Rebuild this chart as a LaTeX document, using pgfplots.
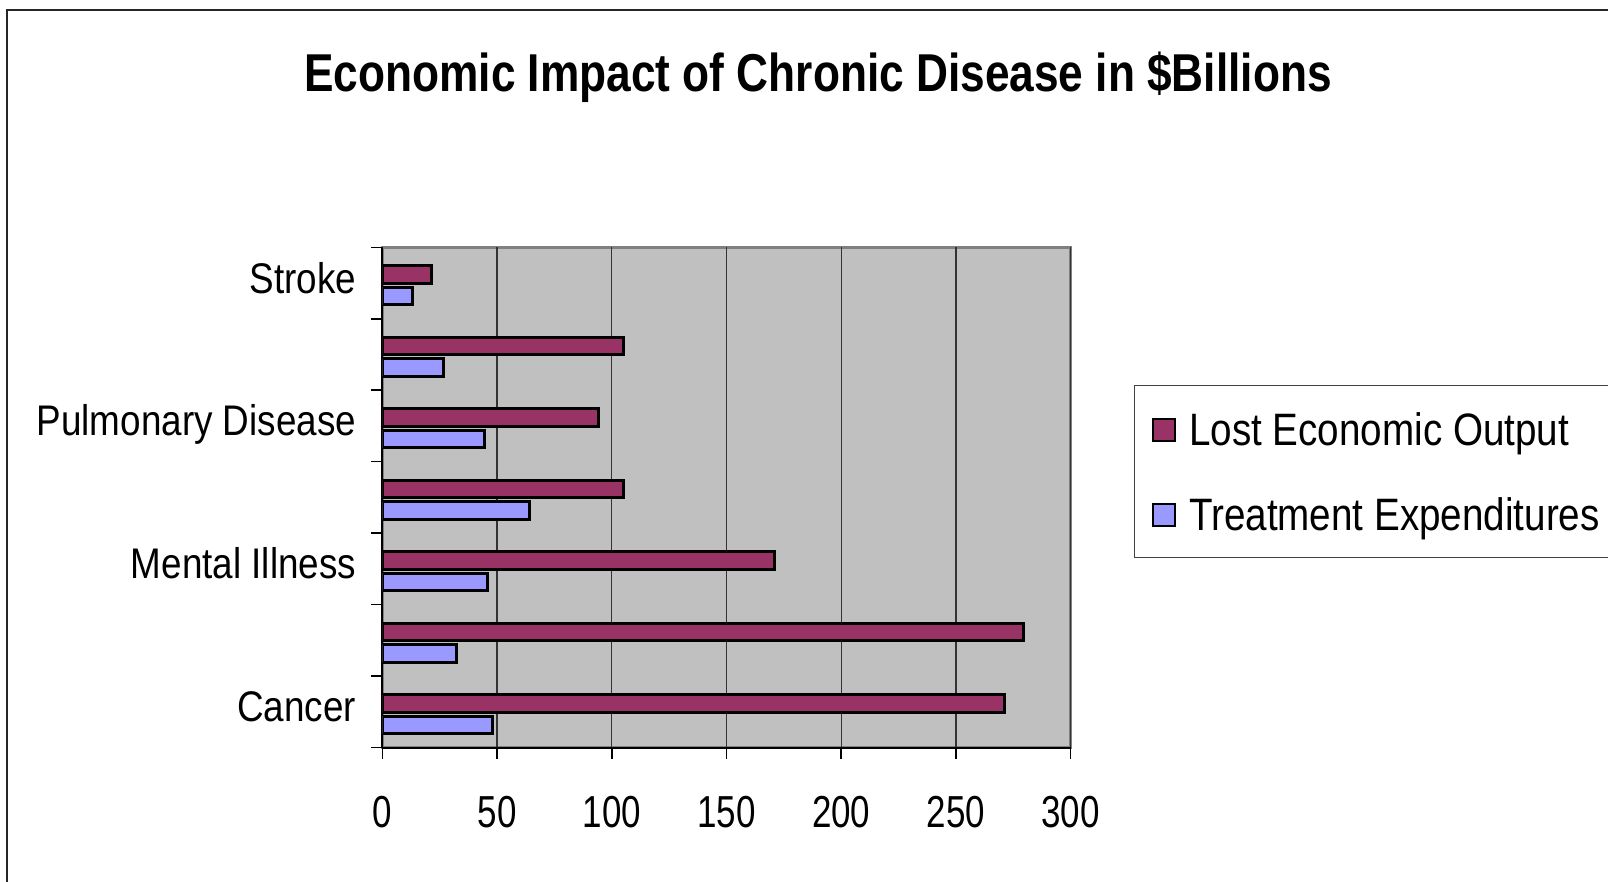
\documentclass[border=0pt]{standalone}
\usepackage{fontspec}
\usepackage{pgfplots}
\pgfplotsset{compat=1.18}
\setmainfont{Liberation Sans}
\newfontfamily\titlefont{Liberation Sans}[FakeStretch=0.83]
\newfontfamily\labfont{Liberation Sans}[FakeStretch=0.85]
\newfontfamily\ylabfont{Liberation Sans}[FakeStretch=0.86]
\newfontfamily\tickfont{Liberation Sans}[FakeStretch=0.78]
\definecolor{lostc}{HTML}{993366}
\definecolor{treatc}{HTML}{9999FF}
\definecolor{bgc}{HTML}{C0C0C0}
\definecolor{bordc}{HTML}{808080}
\begin{document}
\begin{tikzpicture}[x=1bp,y=1bp]
\path[use as bounding box] (0,0) rectangle (1608,881);
\clip (0,0) rectangle (1608,881);
\draw[line width=2bp, black!85] (7,-20) rectangle (1700,871);
\begin{axis}[
  at={(382.3bp,133.4bp)}, anchor=south west,
  scale only axis, width=688.4bp, height=500.3bp,
  xbar, bar width=17.5bp,
  xmin=0, xmax=300, ymin=-0.5, ymax=6.5,
  axis background/.style={fill=bgc, draw=bordc, line width=3bp},
  axis x line*=bottom, axis y line*=left,
  axis line style={-, black, line width=2bp},
  tick align=outside, major tick length=11bp,
  tick style={black, line width=1.5bp},
  xtick={0,50,...,300},
  xmajorgrids, major grid style={black!80, line width=1.2bp},
  /pgf/number format/assume math mode=true,
  xticklabel style={anchor=base, inner sep=0pt, yshift=-68.6bp, font=\tickfont\fontsize{45}{45}\selectfont},
  ytick={-0.5,0.5,...,6.5}, yticklabels={},
  extra y ticks={0,2,4,6},
  extra y tick labels={Cancer,Mental Illness,Pulmonary Disease,Stroke},
  extra y tick style={major tick length=0pt, ymajorgrids=false,
     yticklabel style={anchor=base east, inner sep=0pt, xshift=-26bp, yshift=-10bp, font=\ylabfont\fontsize{43}{43}\selectfont}},
  title={Economic Impact of Chronic Disease in \$Billions},
  title style={at={(0.6329,1.299)}, anchor=base, inner sep=0pt, font=\titlefont\bfseries\fontsize{53.5}{53.5}\selectfont},
  legend cell align=left,
  legend style={at={(1.0920,0.7256)}, anchor=north west, draw=black!75, line width=1.3bp, fill=white,
     inner xsep=17bp, inner ysep=22bp, row sep=42bp, column sep=13bp,
     font=\labfont\fontsize{45.6}{45.6}\selectfont,
     nodes={inner xsep=0pt, inner ysep=0pt, text height=38bp, text depth=5bp}},
  legend image code/.code={\draw[#1, line width=2.4bp] (-1bp,-12.5bp) rectangle (21bp,9.5bp);},
]
\addplot[fill=lostc, draw=black, line width=3bp, bar shift=8.5bp] coordinates {
  (271,0) (279.5,1) (171,2) (105.2,3) (94,4) (105,5) (21.6,6)};
\addplot[fill=treatc, draw=black, line width=3bp, bar shift=-12.9bp] coordinates {
  (48.1,0) (32.5,1) (45.8,2) (64.2,3) (44.6,4) (26.8,5) (13,6)};
\legend{Lost Economic Output, Treatment Expenditures}
\end{axis}
\end{tikzpicture}
\end{document}
